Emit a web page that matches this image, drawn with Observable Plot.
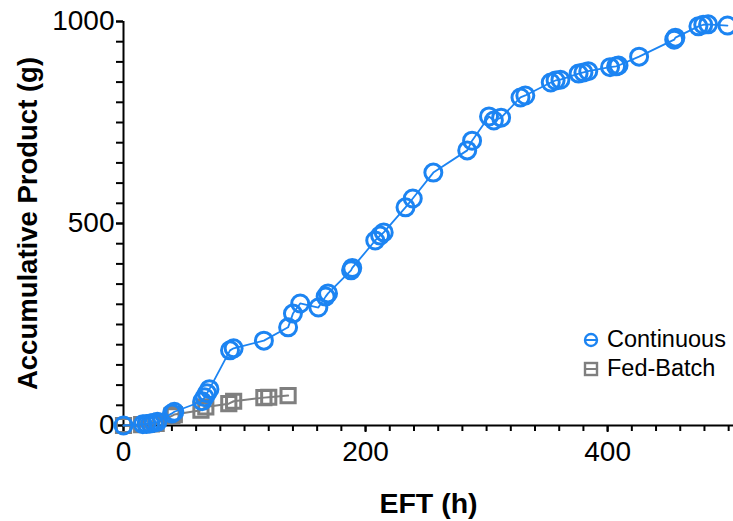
<!DOCTYPE html>
<html>
<head>
<meta charset="utf-8">
<script src="https://cdn.jsdelivr.net/npm/d3@7"></script>
<script src="https://cdn.jsdelivr.net/npm/@observablehq/plot@0.6"></script>
<style>
  html, body { margin: 0; padding: 0; background: #fff; }
  #wrap { position: relative; width: 733px; height: 521px; font-family: "Liberation Sans", Arial, sans-serif; }
  .leg { position: absolute; left: 583px; display: flex; align-items: center; font-size: 23.5px; color: #000; white-space: nowrap; }
  .leg svg { margin-right: 8px; }
</style>
</head>
<body>
<div id="wrap"></div>
<script>
const contX = [0, 16, 19, 22, 25, 28, 40, 42, 65, 67, 69, 71, 88, 91, 116, 136, 140, 146, 161, 167, 169, 188, 189,
  208, 212, 215, 233, 239, 256, 284, 288, 302, 306, 312, 328, 332, 353, 357, 361, 376, 380, 384, 402, 407, 409,
  426, 455, 456, 475, 479, 483, 499];
const contY = [0, 3, 4, 5, 7, 9, 30, 34, 60, 70, 80, 90, 186, 191, 210, 243, 277, 302, 292, 319, 327, 384, 390,
  458, 470, 478, 540, 562, 626, 681, 705, 765, 755, 762, 812, 817, 849, 854, 856, 871, 874, 877, 887, 889, 891,
  913, 955, 960, 988, 992, 993, 990];
const fedX = [0, 15, 19, 23, 27, 40, 42, 64, 68, 87, 91, 116, 120, 136];
const fedY = [0, 2, 3, 4, 5, 24, 27, 38, 46, 54, 60, 69, 70, 74];
const seriesNames = ["Continuous", "Fed-Batch"];
const xMajor = [0, 200, 400];
const xMinor = d3.range(0, 501, 20);
const yMajor = [0, 500, 1000];
const yMinor = d3.range(0, 1001, 50);

const blue = "#1c84f2";
const gray = "#7f7f7f";

const cont = contX.map((x, i) => ({x, y: contY[i]}));
const fed = fedX.map((x, i) => ({x, y: fedY[i]}));

const chart = Plot.plot({
  width: 733,
  height: 521,
  marginLeft: 123,
  marginRight: 0,
  marginTop: 21,
  marginBottom: 96,
  style: {fontFamily: "Liberation Sans, Arial, sans-serif", background: "#fff", overflow: "visible"},
  x: {domain: [0, 504]},
  y: {domain: [0, 1000]},
  marks: [
    Plot.axisX({ticks: xMinor, tickFormat: () => "", tickSize: 6, strokeWidth: 2, label: null}),
    Plot.axisX({ticks: xMajor, tickFormat: d => String(d), tickSize: 7, strokeWidth: 2, tickPadding: 9, fontSize: 28, label: null}),
    Plot.axisX({ticks: [], label: "EFT (h)", labelAnchor: "center", labelArrow: "none", labelOffset: 87, fontSize: 28.5, fontWeight: "bold"}),
    Plot.axisY({ticks: yMinor, tickFormat: () => "", tickSize: 7, strokeWidth: 2, label: null}),
    Plot.axisY({ticks: yMajor, tickFormat: d => String(d), tickSize: 7, strokeWidth: 2, tickPadding: 2, fontSize: 28, label: null}),
    Plot.axisY({ticks: [], label: "Accumulative Product (g)", labelAnchor: "center", labelArrow: "none", labelOffset: 106, fontSize: 27.5, fontWeight: "bold"}),
    Plot.ruleY([0], {stroke: "#000", strokeWidth: 2}),
    Plot.ruleX([0], {stroke: "#000", strokeWidth: 2}),
    Plot.line(fed, {x: "x", y: "y", stroke: gray, strokeWidth: 2}),
    Plot.dot(fed, {x: "x", y: "y", symbol: "square", r: 8, stroke: gray, strokeWidth: 3, fill: "none"}),
    Plot.line(cont, {x: "x", y: "y", stroke: blue, strokeWidth: 1.8}),
    Plot.dot(cont, {x: "x", y: "y", symbol: "circle", r: 8.5, stroke: blue, strokeWidth: 3, fill: "none"})
  ]
});
const wrap = document.getElementById("wrap");
wrap.appendChild(chart);

function legendItem(name, top, color, shape) {
  const div = document.createElement("div");
  div.className = "leg";
  div.style.top = top + "px";
  const s = shape === "circle"
    ? `<svg width="16" height="16"><circle cx="8" cy="8" r="6" fill="none" stroke="${color}" stroke-width="2.4"/><line x1="2" x2="14" y1="8" y2="8" stroke="${color}" stroke-width="2"/></svg>`
    : `<svg width="16" height="16"><rect x="2" y="2" width="12" height="12" fill="none" stroke="${color}" stroke-width="2.4"/><line x1="2" x2="14" y1="8" y2="8" stroke="${color}" stroke-width="2"/></svg>`;
  div.innerHTML = s + `<span>${name}</span>`;
  wrap.appendChild(div);
}
legendItem(seriesNames[0], 326, blue, "circle");
legendItem(seriesNames[1], 355, gray, "square");
</script>
</body>
</html>
